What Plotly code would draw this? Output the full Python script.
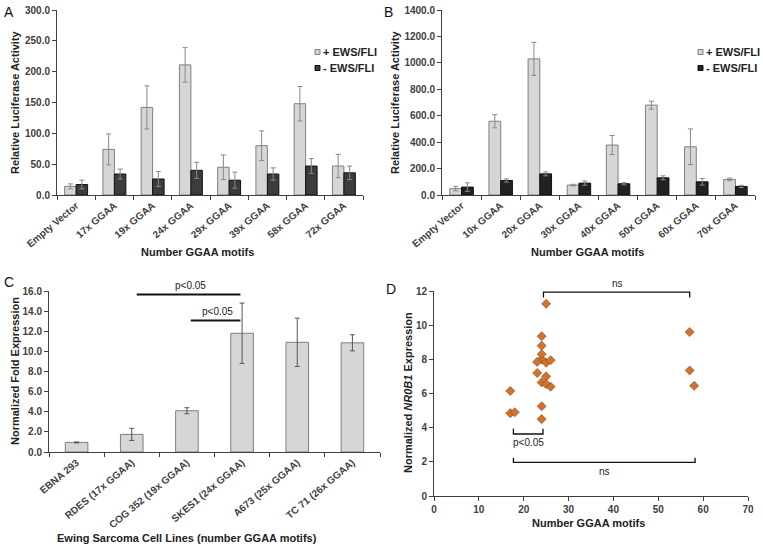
import plotly.graph_objects as go

W, H = 763, 557

# ---------------- data ----------------
a_cats = ["Empty Vector", "17x GGAA", "19x GGAA", "24x GGAA", "29x GGAA",
          "39x GGAA", "58x GGAA", "72x GGAA"]
a_plus = [14, 74, 142, 211, 45, 80, 148, 47]
a_plus_err = [4, 25, 35, 28, 20, 24, 28, 19]
a_minus = [17, 34, 26, 40, 24, 34, 47, 36]
a_minus_err = [7, 8, 12, 13, 13, 10, 12, 11]

b_cats = ["Empty Vector", "10x GGAA", "20x GGAA", "30x GGAA", "40x GGAA",
          "50x GGAA", "60x GGAA", "70x GGAA"]
b_plus = [48, 558, 1030, 75, 378, 680, 365, 118]
b_plus_err = [17, 50, 125, 6, 72, 30, 135, 10]
b_minus = [60, 110, 160, 90, 85, 130, 100, 65]
b_minus_err = [32, 12, 15, 16, 8, 15, 25, 8]

series_names = ["+ EWS/FLI", "- EWS/FLI"]

c_cats = ["EBNA 293", "RDES (17x GGAA)", "COG 352 (19x GGAA)", "SKES1 (24x GGAA)",
          "A673 (25x GGAA)", "TC 71 (26x GGAA)"]
c_vals = [0.95, 1.75, 4.1, 11.8, 10.9, 10.85]
c_err = [0.05, 0.6, 0.3, 3.0, 2.4, 0.8]
# significance lines in panel C: (from index, to index, height, label x)
c_sig = [(1.09, 2.97, 15.66, 2.07), (2.07, 2.97, 13.08, 2.55)]

d_x = [17, 17, 18, 24, 24, 24, 24, 24, 24, 24, 23, 23, 25, 25, 25, 25, 26, 26, 57, 57, 58]
d_y = [6.15, 4.85, 4.9, 4.5, 5.25, 6.65, 8.0, 8.3, 8.8, 9.35, 7.85, 7.2,
       11.25, 7.8, 7.0, 6.55, 7.95, 6.4, 9.6, 7.35, 6.45]
# brackets in panel D: (x start, x end, bar y, tip y, label, label x, label side)
d_brackets = [(24.4, 57.0, 11.93, 11.62, "ns", 40.8, "above"),
              (17.7, 24.3, 3.63, 3.94, "p<0.05", 21.0, "below"),
              (17.7, 58.2, 1.97, 2.24, "ns", 38.1, "below")]

# ---------------- style ----------------
FONT = "Liberation Sans, Arial, sans-serif"
LIGHT = "#d6d6d6"
LIGHT_EDGE = "#7f7f7f"
DARK_A = "#3c3c3c"
DARK_B = "#222222"
DARK_EDGE = "#111111"
ERR = "#8a8a8a"
AXC = "#404040"
TXT = "#333333"

C_MAX = 16
D_YMAX = 12


def fx(px):
    return px / W


def fy(py):
    return 1 - py / H


fig = go.Figure()

# Panel A
fig.add_trace(go.Bar(x=a_cats, y=a_plus, name=series_names[0], xaxis="x", yaxis="y",
                     showlegend=False,
                     marker=dict(color=LIGHT, line=dict(color=LIGHT_EDGE, width=1)),
                     error_y=dict(type="data", array=a_plus_err, color=ERR, thickness=1, width=2.5)))
fig.add_trace(go.Bar(x=a_cats, y=a_minus, name=series_names[1], xaxis="x", yaxis="y",
                     showlegend=False,
                     marker=dict(color=DARK_A, line=dict(color=DARK_EDGE, width=1)),
                     error_y=dict(type="data", array=a_minus_err, color=ERR, thickness=1, width=2.5)))
# Panel B
fig.add_trace(go.Bar(x=b_cats, y=b_plus, name=series_names[0], xaxis="x2", yaxis="y2",
                     showlegend=False,
                     marker=dict(color=LIGHT, line=dict(color=LIGHT_EDGE, width=1)),
                     error_y=dict(type="data", array=b_plus_err, color=ERR, thickness=1, width=2.5)))
fig.add_trace(go.Bar(x=b_cats, y=b_minus, name=series_names[1], xaxis="x2", yaxis="y2",
                     showlegend=False,
                     marker=dict(color=DARK_B, line=dict(color=DARK_EDGE, width=1)),
                     error_y=dict(type="data", array=b_minus_err, color=ERR, thickness=1, width=2.5)))
# Panel C
fig.add_trace(go.Bar(x=c_cats, y=c_vals, name="C", xaxis="x3", yaxis="y3", width=0.41,
                     showlegend=False,
                     marker=dict(color=LIGHT, line=dict(color=LIGHT_EDGE, width=1)),
                     error_y=dict(type="data", array=c_err, color="#555555", thickness=1, width=2.5)))
# Panel D
fig.add_trace(go.Scatter(x=d_x, y=d_y, mode="markers", xaxis="x4", yaxis="y4", showlegend=False,
                         marker=dict(symbol="diamond", size=7, color="#d2722f",
                                     line=dict(color="#8a4515", width=0.6))))

tickfont = dict(family=FONT, size=10, color=AXC, weight="bold")


def cat_axis(domain, anchor):
    return dict(domain=domain, anchor=anchor, type="category", showline=True, linecolor=AXC,
                linewidth=1, ticks="outside", ticklen=4, tickcolor=AXC, tickson="boundaries",
                tickangle=-40, tickfont=tickfont, showgrid=False, zeroline=False,
                automargin=False)


def val_axis(domain, anchor, rng, dtick, fmt):
    return dict(domain=domain, anchor=anchor, range=rng, dtick=dtick, tickformat=fmt,
                showline=True, linecolor=AXC, linewidth=1, ticks="outside", ticklen=4,
                tickcolor=AXC, tickfont=tickfont, showgrid=False, zeroline=False,
                automargin=False)


dom_a_x = [fx(57), fx(363)]
dom_b_x = [fx(442), fx(755)]
dom_ab_y = [fy(195), fy(10)]
dom_c_x = [fx(49), fx(380)]
dom_c_y = [fy(452), fy(291)]
dom_d_x = [fx(434), fx(748)]
dom_d_y = [fy(496), fy(291)]

shapes = []
ann = []
small = dict(family=FONT, size=10, color="#222222")

for x0, x1, yv, lx in c_sig:
    shapes.append(dict(type="line", xref="x3", yref="y3", x0=x0, x1=x1, y0=yv, y1=yv,
                       line=dict(color="#111111", width=2)))
    ann.append(dict(text="p<0.05", xref="x3", yref="y3 domain", x=lx, y=(yv + 0.15) / C_MAX,
                    yanchor="bottom", showarrow=False, font=small))
for x0, x1, yb, yt, lab, lx, side in d_brackets:
    shapes.append(dict(type="path", xref="x4", yref="y4",
                       path=f"M {x0},{yt} L {x0},{yb} L {x1},{yb} L {x1},{yt}",
                       line=dict(color="#111111", width=1.3)))
    if side == "above":
        ann.append(dict(text=lab, xref="x4", yref="y4 domain", x=lx, y=(yb + 0.08) / D_YMAX,
                        yanchor="bottom", showarrow=False, font=small))
    else:
        ann.append(dict(text=lab, xref="x4", yref="y4 domain", x=lx, y=(yb - 0.08) / D_YMAX,
                        yanchor="top", showarrow=False, font=small))

# legends (A and B), drawn as small squares + text
legend_font = dict(family=FONT, size=11, color="#222222", weight="bold")
for (lx, ly0, darkc) in [(315, 52, DARK_A), (698, 52, DARK_B)]:
    for i, (nm, fc, ec) in enumerate([(series_names[0], LIGHT, LIGHT_EDGE),
                                      (series_names[1], darkc, DARK_EDGE)]):
        cy = ly0 + i * 16
        shapes.append(dict(type="rect", xref="paper", yref="paper",
                           x0=fx(lx), x1=fx(lx + 5), y0=fy(cy + 2.5), y1=fy(cy - 2.5),
                           fillcolor=fc, line=dict(color=ec, width=1)))
        ann.append(dict(text=nm, xref="paper", yref="paper", x=fx(lx + 6), y=fy(cy),
                        xanchor="left", yanchor="middle", showarrow=False, font=legend_font))

title_font = dict(family=FONT, size=11, color="#222222", weight="bold")
letter_font = dict(family=FONT, size=14, color="#111111")
# panel letters
for t, px, py in [("A", 2, 2), ("B", 382, 2), ("C", 2, 272), ("D", 384, 279)]:
    ann.append(dict(text=t, xref="paper", yref="paper", x=fx(px), y=fy(py), xanchor="left",
                    yanchor="top", showarrow=False, font=letter_font))
# axis titles
for t, px, py in [("Number GGAA motifs", 197, 252), ("Number GGAA motifs", 587, 252),
                  ("Ewing Sarcoma Cell Lines (number GGAA motifs)", 187, 538),
                  ("Number GGAA motifs", 588, 523)]:
    ann.append(dict(text=t, xref="paper", yref="paper", x=fx(px), y=fy(py), xanchor="center",
                    yanchor="middle", showarrow=False, font=title_font))
for t, px, py in [("Relative Luciferase Activity", 15, 102),
                  ("Relative Luciferase Activity", 395, 102),
                  ("Normalized Fold Expression", 15, 371),
                  ("Normalized <i>NR0B1</i> Expression", 408, 393)]:
    ann.append(dict(text=t, xref="paper", yref="paper", x=fx(px), y=fy(py), xanchor="center",
                    yanchor="middle", textangle=-90, showarrow=False, font=title_font))

fig.update_layout(
    width=W, height=H, margin=dict(l=0, r=0, t=0, b=0),
    paper_bgcolor="white", plot_bgcolor="white",
    font=dict(family=FONT, size=10, color=TXT),
    showlegend=False,
    barmode="group", bargap=0.4, bargroupgap=0.0,
    xaxis=cat_axis(dom_a_x, "y"),
    yaxis=val_axis(dom_ab_y, "x", [0, 300], 50, ".1f"),
    xaxis2=cat_axis(dom_b_x, "y2"),
    yaxis2=val_axis(dom_ab_y, "x2", [0, 1400], 200, ".1f"),
    xaxis3=cat_axis(dom_c_x, "y3"),
    yaxis3=val_axis(dom_c_y, "x3", [0, C_MAX], 2, ".1f"),
    xaxis4=val_axis(dom_d_x, "y4", [0, 70], 10, "d"),
    yaxis4=val_axis(dom_d_y, "x4", [0, D_YMAX], 2, "d"),
    shapes=shapes, annotations=ann,
)

fig.write_html("out.html", config={"displayModeBar": False},
               post_script="document.body.style.margin='0';document.body.style.overflow='hidden';")
